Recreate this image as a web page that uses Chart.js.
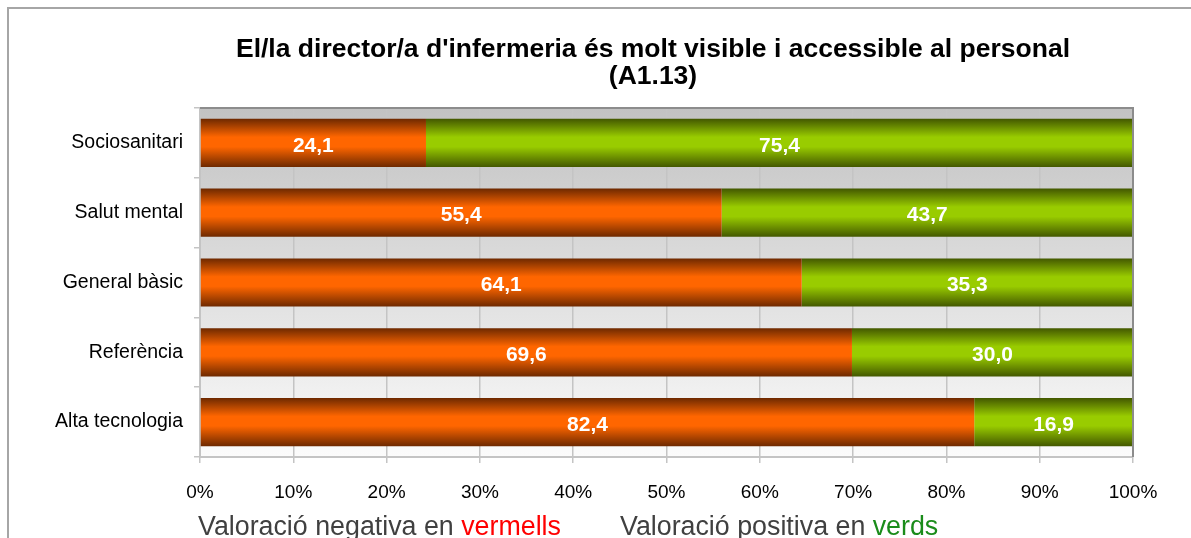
<!DOCTYPE html>
<html>
<head>
<meta charset="utf-8">
<script src="https://cdn.jsdelivr.net/npm/chart.js@4.4.1/dist/chart.umd.min.js"></script>
<style>
  html, body { margin: 0; padding: 0; background: #fff; overflow: hidden; }
</style>
</head>
<body>
<canvas id="directorchart" width="1191" height="538"></canvas>
<script>
const categories = ['Sociosanitari', 'Salut mental', 'General bàsic', 'Referència', 'Alta tecnologia'];
const negativeValues = [24.1, 55.4, 64.1, 69.6, 82.4];
const positiveValues = [75.4, 43.7, 35.3, 30.0, 16.9];
const xTickValues = [0, 10, 20, 30, 40, 50, 60, 70, 80, 90, 100];
const xTickLabels = ['0%', '10%', '20%', '30%', '40%', '50%', '60%', '70%', '80%', '90%', '100%'];

const FONT = "'Liberation Sans', Arial, sans-serif";
const BAR_PCT = 0.69;

// 100% stacked: each row is shown as its share of the total
const negShare = negativeValues.map((v, i) => v / (v + positiveValues[i]) * 100);
const posShare = positiveValues.map((v, i) => v / (negativeValues[i] + v) * 100);

// cylinder-like shading, dark at the edges of the bar
function shade(dark, light) {
    return function (c) {
        const chart = c.chart;
        const y = chart.scales.y;
        if (!chart.chartArea || !y || c.dataIndex === undefined) return light;
        const center = y.getPixelForValue(c.dataIndex);
        const half = y.height / categories.length * BAR_PCT / 2;
        const g = chart.ctx.createLinearGradient(0, center - half, 0, center + half);
        g.addColorStop(0, dark);
        g.addColorStop(0.38, light);
        g.addColorStop(0.58, light);
        g.addColorStop(1, dark);
        return g;
    };
}

const plotBackground = {
    id: 'plotBackground',
    beforeDraw(chart) {
        const { ctx, chartArea: a } = chart;
        ctx.save();
        ctx.strokeStyle = '#a6a6a6';
        ctx.lineWidth = 2;
        ctx.strokeRect(8, 8, chart.width + 20, chart.height + 20);
        const g = ctx.createLinearGradient(0, a.top, 0, a.bottom);
        g.addColorStop(0, '#c2c2c2');
        g.addColorStop(1, '#fbfbfb');
        ctx.fillStyle = g;
        ctx.fillRect(a.left, a.top, a.right - a.left, a.bottom - a.top);
        ctx.restore();
    }
};

const valueLabels = {
    id: 'valueLabels',
    afterDatasetsDraw(chart) {
        const ctx = chart.ctx;
        ctx.save();
        ctx.fillStyle = '#ffffff';
        ctx.font = 'bold 21px ' + FONT;
        ctx.textAlign = 'center';
        ctx.textBaseline = 'middle';
        chart.data.datasets.forEach((ds, i) => {
            chart.getDatasetMeta(i).data.forEach((bar, j) => {
                const txt = ds.rawValues[j].toFixed(1).replace('.', ',');
                ctx.fillText(txt, (bar.x + bar.base) / 2, bar.y + 3);
            });
        });
        ctx.restore();
    }
};

const textsAndFrame = {
    id: 'textsAndFrame',
    afterDraw(chart) {
        const { ctx, chartArea: a } = chart;
        ctx.save();
        // plot border top and right
        ctx.strokeStyle = '#8c8c8c';
        ctx.lineWidth = 2;
        ctx.beginPath();
        ctx.moveTo(a.left, a.top);
        ctx.lineTo(a.right, a.top);
        ctx.lineTo(a.right, a.bottom);
        ctx.stroke();

        // title
        ctx.fillStyle = '#000';
        ctx.font = 'bold 26.5px ' + FONT;
        ctx.textAlign = 'center';
        ctx.textBaseline = 'alphabetic';
        ctx.fillText("El/la director/a d'infermeria és molt visible i accessible al personal", 653, 57);
        ctx.fillText('(A1.13)', 653, 84);

        // footer note with coloured words
        ctx.font = '26.8px ' + FONT;
        ctx.textAlign = 'left';
        const parts = [
            ['Valoració negativa en ', '#404040', 198],
            ['vermells', '#ff0000', null],
            ['Valoració positiva en ', '#404040', 620],
            ['verds', '#1a8c1a', null]
        ];
        let x = 0;
        parts.forEach(p => {
            if (p[2] !== null) x = p[2];
            ctx.fillStyle = p[1];
            ctx.fillText(p[0], x, 535);
            x += ctx.measureText(p[0]).width;
        });
        ctx.restore();
    }
};

const ctx = document.getElementById('directorchart').getContext('2d');
new Chart(ctx, {
    type: 'bar',
    data: {
        labels: categories,
        datasets: [{
                label: 'Negativa',
                data: negShare,
                rawValues: negativeValues,
                backgroundColor: shade('#6e2900', '#ff6600'),
                borderWidth: 0
            },
            {
                label: 'Positiva',
                data: posShare,
                rawValues: positiveValues,
                backgroundColor: shade('#435800', '#99cc00'),
                borderWidth: 0
            }
        ]
    },
    options: {
        indexAxis: 'y',
        responsive: false,
        animation: false,
        layout: {
            padding: { top: 108, right: 58, left: 0, bottom: 0 }
        },
        datasets: {
            bar: { categoryPercentage: 1, barPercentage: BAR_PCT }
        },
        plugins: {
            legend: { display: false },
            title: { display: false },
            tooltip: { enabled: false }
        },
        scales: {
            x: {
                stacked: true,
                min: 0,
                max: 100,
                afterFit: s => { s.height = 81; },
                afterBuildTicks: s => { s.ticks = xTickValues.map(v => ({ value: v })); },
                ticks: {
                    callback: (v) => xTickLabels[xTickValues.indexOf(v)],
                    color: '#000',
                    padding: 18,
                    maxRotation: 0,
                    font: { size: 19, family: FONT }
                },
                grid: { color: '#c4c4c4', lineWidth: 1.5, tickLength: 6 },
                border: { color: '#c4c4c4', width: 2 }
            },
            y: {
                stacked: true,
                afterFit: s => { s.width = 200; },
                ticks: {
                    color: '#000',
                    padding: 11,
                    font: { size: 19.5, family: FONT }
                },
                grid: { offset: true, drawOnChartArea: false, color: '#c4c4c4', lineWidth: 1.5, tickLength: 6 },
                border: { color: '#c4c4c4', width: 2 }
            }
        }
    },
    plugins: [plotBackground, valueLabels, textsAndFrame]
});
</script>
</body>
</html>
